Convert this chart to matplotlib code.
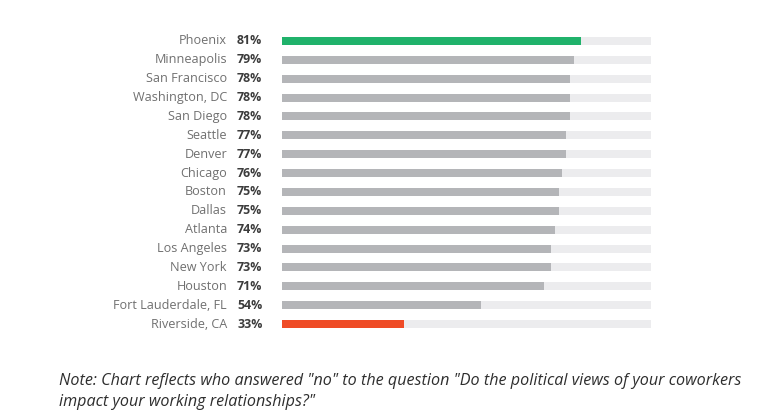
import matplotlib
matplotlib.use("Agg")
import matplotlib.pyplot as plt

cities = ["Phoenix", "Minneapolis", "San Francisco", "Washington, DC", "San Diego",
          "Seattle", "Denver", "Chicago", "Boston", "Dallas", "Atlanta",
          "Los Angeles", "New York", "Houston", "Fort Lauderdale, FL", "Riverside, CA"]
values = [81, 79, 78, 78, 78, 77, 77, 76, 75, 75, 74, 73, 73, 71, 54, 33]
note = ('Note: Chart reflects who answered "no" to the question "Do the political views of your coworkers\n'
        'impact your working relationships?"')

W, H = 779, 419
fig = plt.figure(figsize=(W / 100, H / 100), dpi=100)
fig.patch.set_facecolor("white")

top_c, bot_c = 41, 324
n = len(cities)
step = (bot_c - top_c) / (n - 1)
y_top = top_c - step / 2
y_bot = bot_c + step / 2
x0, x1 = 282, 651
ax = fig.add_axes([x0 / W, 1 - y_bot / H, (x1 - x0) / W, (y_bot - y_top) / H])
ax.set_xlim(0, 100)
ax.set_ylim(n - 0.5, -0.5)
ax.axis("off")

pos = list(range(n))
bar_h = 8 / step
ax.barh(pos, [100] * n, height=bar_h, color="#ececee", linewidth=0)
colors = ["#20b26b"] + ["#b4b5b8"] * (n - 2) + ["#ef4b26"]
ax.barh(pos, values, height=bar_h, color=colors, linewidth=0)

for i, (c, v) in enumerate(zip(cities, values)):
    ax.text(-55 * 100 / 369, i, c, ha="right", va="center", fontsize=9.1,
            family="Open Sans", color="#707070")
    ax.text(-45 * 100 / 369, i, f"{v}%", ha="left", va="center", fontsize=8.9,
            family="Open Sans", fontweight="bold", color="#3c3c3c")

fig.text(59 / W, 1 - 373 / H, note, ha="left", va="top", fontsize=11.6,
         family="Open Sans", style="italic", color="#2e2e2e", linespacing=1.38)

fig.savefig("out.png", dpi=100, facecolor="white")
